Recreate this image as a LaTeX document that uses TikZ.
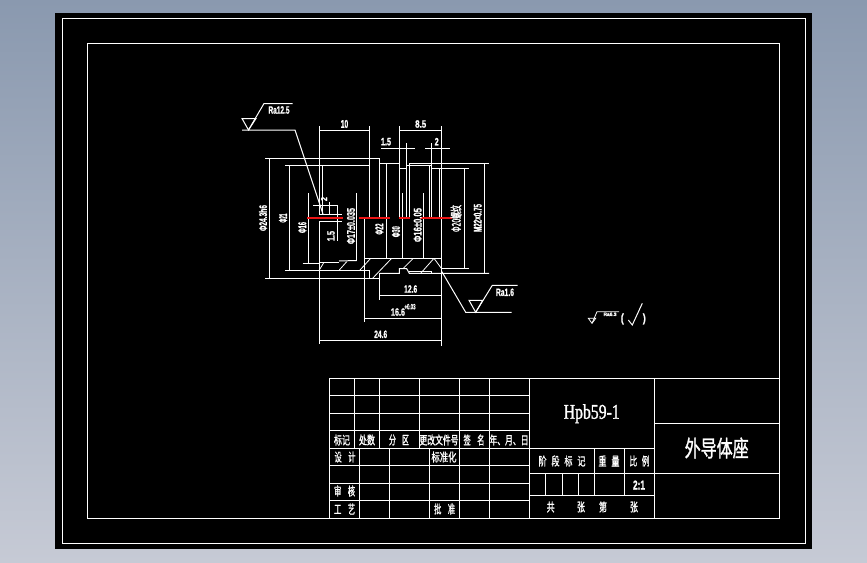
\documentclass[tikz,border=0pt]{standalone}
\usepackage{graphicx}
\usepackage{fontspec}
\setmainfont{Liberation Sans}[BoldFont={Liberation Sans Bold}]
\newfontfamily\latinbold[FakeBold=1.2]{Liberation Sans Bold}
\newfontfamily\cjk[FakeBold=1.5]{Noto Sans CJK SC}
\newfontfamily\titlefont[FakeBold=1.5]{Liberation Serif}
\newcommand{\fit}[3]{\resizebox*{#1pt}{#2pt}{\latinbold #3}}
\newcommand{\cn}[3]{\resizebox*{#1pt}{#2pt}{\cjk #3}}
\definecolor{bgtop}{RGB}{138,153,175}
\definecolor{bgbot}{RGB}{198,202,213}
\definecolor{cadred}{RGB}{235,20,20}
\tikzset{
  cad/.style={draw=white,line width=1pt},
  redline/.style={draw=cadred,line width=1.1pt},
  thin cad/.style={draw=white,line width=0.8pt},
  lab/.style={text=white,inner sep=0pt,outer sep=0pt},
  vlab/.style={lab,rotate=90}
}
\begin{document}
\begin{tikzpicture}[x=1pt,y=-1pt]
\useasboundingbox (0,0) rectangle (867,562);
\shade[top color=bgtop,bottom color=bgbot] (0,0) rectangle (867,562);
\fill[black] (55,13) rectangle (812,549);
\draw[cad] (62.5,18.5) rectangle (805,543.5);
\draw[cad] (87.5,43.5) rectangle (779.3,518);

% --- part outline: left half ---
\draw[cad] (265,158.3) -- (379.3,158.3) -- (379.3,218);
\draw[cad] (285,165.3) -- (369.3,165.3);
\draw[cad] (269.3,158.3) -- (269.3,278.2);
\draw[cad] (265,278.2) -- (379.3,278.2);
\draw[cad] (289.3,165.3) -- (289.3,270.3);
\draw[cad] (285,270.3) -- (369.3,270.3) -- (369.3,278.2);
\draw[cad] (308.3,193) -- (308.3,263.3);
\draw[cad] (302.7,263.3) -- (319.3,263.3);
\draw[cad] (356.3,193) -- (356.3,260.5);
\draw[cad] (319.3,262.3) -- (339,262.3);
\draw[cad] (339,261) -- (356.7,260.5);
\draw[cad] (319.3,126) -- (319.3,214.3) -- (341.7,214.3);
\draw[cad] (322.5,165.3) -- (322.5,214.3);
\draw[cad] (313.3,205.5) -- (337.7,205.5);
\draw[cad] (329.3,201.7) -- (329.3,214.3);
\draw[cad] (337.3,205.5) -- (337.3,241);
\draw[cad] (319.3,221.7) -- (341.7,221.7);
\draw[cad] (319.3,221.7) -- (319.3,344);
\draw[cad] (369.3,126) -- (369.3,218);
\draw[cad] (364.3,218) -- (364.3,322);

% --- part outline: right half ---
\draw[cad] (379.3,163.3) -- (399.3,163.3);
\draw[cad] (386,163.3) -- (386,258.3);
\draw[cad] (399.3,126) -- (399.3,218);
\draw[cad] (399.3,168.3) -- (406.3,168.3);
\draw[cad] (402.3,193.3) -- (402.3,258.3);
\draw[cad] (406.3,143) -- (406.3,218);
\draw[cad] (409.3,164.3) -- (409.3,218);
\draw[cad] (409.3,163.3) -- (489,163.3);
\draw[cad] (407.3,165) -- (431.3,165);
\draw[cad] (429.3,165) -- (429.3,218);
\draw[cad] (431.3,143) -- (431.3,218);
\draw[cad] (431.3,168.3) -- (469,168.3);
\draw[cad] (439.3,168.3) -- (439.3,218);
\draw[cad] (441.3,126) -- (441.3,345.7);
\draw[cad] (423.3,193.3) -- (423.3,258.3);
\draw[cad] (464.3,168.3) -- (464.3,268.3);
\draw[cad] (441.3,268.3) -- (469,268.3);
\draw[cad] (484.3,163.3) -- (484.3,273.3);
\draw[cad] (379.3,273.3) -- (399.3,273.3) -- (399.3,268.7) -- (406.7,268.7) -- (409.3,273.3) -- (489,273.3);
\draw[cad] (409.3,271.7) -- (431,271.7) -- (431,273.3);
\draw[cad] (364.3,258.3) -- (441.3,258.3);
\draw[cad] (379.3,273.3) -- (379.3,300);

% --- hatching ---
\draw[thin cad] (319.3,270) -- (324,262.3);
\draw[thin cad] (339.3,270) -- (346.7,261.7);
\draw[thin cad] (360,270) -- (370.7,258.3);
\draw[thin cad] (372.7,278.2) -- (391.7,258.3);
\draw[thin cad] (403.3,268.3) -- (413.3,258.3);
\draw[thin cad] (420.7,273.3) -- (434,258.3);
\draw[thin cad] (434,258.3) -- (441.3,268.3);

% --- red section lines ---
\draw[redline] (307,218) -- (342.7,218);
\draw[redline] (359,218) -- (390,218);
\draw[redline] (399.3,218) -- (410,218);
\draw[redline] (420,218) -- (451.7,218);

% --- dimension lines ---
\draw[cad] (319.3,130.3) -- (369.3,130.3);
\draw[cad] (399.3,130.3) -- (441.3,130.3);
\draw[cad] (381,148.3) -- (415,148.3);
\draw[cad] (425,148.3) -- (450,148.3);
\draw[cad] (379.3,295) -- (441.3,295);
\draw[cad] (364.3,318.3) -- (441.3,318.3);
\draw[cad] (319.3,340.3) -- (441.3,340.3);

% --- surface finish symbols ---
\draw[cad] (242,118.5) -- (256,118.5) -- (248.5,130) -- cycle;
\draw[cad] (248.5,130) -- (264,103.5) -- (292.7,103.5);
\draw[cad] (242,130) -- (295,130) -- (323,214);
\draw[cad] (441.3,270.7) -- (465.7,312.3) -- (511.7,312.3);
\draw[cad] (469,300.3) -- (482.7,300.3) -- (475.7,312.3) -- cycle;
\draw[cad] (475.7,312.3) -- (492.3,285.3) -- (517.7,285.3);
\draw[thin cad] (588.3,318.3) -- (595.7,318.3) -- (592,323.3) -- cycle;
\draw[thin cad] (592,323.3) -- (597,311.7) -- (619,311.7);
\draw[cad] (628.3,320) -- (632.3,325) -- (642.3,303.3);

% --- dimension and finish labels ---
\node[lab] (ra125) at (279,110) {\fit{21}{7.5}{Ra12.5}};
\node[lab] (d10) at (344.5,124) {\fit{7.5}{8}{10}};
\node[lab] (d85) at (420.7,124) {\fit{11}{7.5}{8.5}};
\node[lab] (d15) at (386,141.7) {\fit{10}{7.5}{1.5}};
\node[lab] (d2) at (436.7,141.7) {\fit{4}{7.5}{2}};
\node[lab] (d126) at (410.7,289) {\fit{13}{7.5}{12.6}};
\node[lab] (d166) at (398,312) {\fit{14}{7.5}{16.6}};
\node[lab] (tol) at (410,306.7) {\fit{11}{5.5}{+0.03}};
\node[lab] (d246) at (380.7,334.3) {\fit{13}{7.5}{24.6}};
\node[lab] (ra16) at (505,292.3) {\fit{18}{7.5}{Ra1.6}};
\node[lab] (ra63) at (610,314.3) {\fit{13}{3.5}{Ra6.3}};
\node[lab] (po) at (622.3,319) {\fit{3}{11}{(}};
\node[lab] (pc) at (644.3,319) {\fit{3}{11}{)}};

\node[vlab] (v1) at (263,218) {\fit{26}{8}{Φ24.3h6}};
\node[vlab] (v2) at (283,218) {\fit{9}{8}{Φ21}};
\node[vlab] (v3) at (302.3,227.5) {\fit{11}{8}{Φ16}};
\node[vlab] (v4) at (331,236) {\fit{10}{7.5}{1.5}};
\node[vlab] (v5) at (324,199) {\fit{4}{6}{2}};
\node[vlab] (v6) at (351,226) {\fit{36}{8}{Φ17±0.035}};
\node[vlab] (v7) at (379.3,229) {\fit{11}{8}{Φ22}};
\node[vlab] (v8) at (396,231.7) {\fit{11}{8}{Φ30}};
\node[vlab] (v9) at (417.7,225) {\fit{34}{8}{Φ16±0.05}};
\node[vlab] (v10) at (456,218.5) {\resizebox*{27pt}{11pt}{\cjk Φ20螺纹}};
\node[vlab] (v11) at (477.7,218) {\fit{28}{8}{M22×0.75}};

% --- title block ---
\draw[cad] (329.3,378.3) rectangle (779.3,518);
\foreach \yy in {395.3,413.3,430.7,448.3,465.3,483.3,500.3}
  \draw[cad] (329.3,\yy) -- (529.3,\yy);
\foreach \xx in {354.3,379.3,419.3}
  \draw[cad] (\xx,378.3) -- (\xx,448.3);
\foreach \xx in {459.3,489.3}
  \draw[cad] (\xx,378.3) -- (\xx,518);
\foreach \xx in {359.3,389.3,429.3}
  \draw[cad] (\xx,448.3) -- (\xx,518);
\draw[cad] (529.3,378.3) -- (529.3,518);
\draw[cad] (654.3,378.3) -- (654.3,518);
\draw[cad] (529.3,448.3) -- (654.3,448.3);
\draw[cad] (654.3,423.3) -- (779.3,423.3);
\draw[cad] (529.3,473.3) -- (779.3,473.3);
\draw[cad] (529.3,495.3) -- (654.3,495.3);
\foreach \xx in {594.3,624.3}
  \draw[cad] (\xx,448.3) -- (\xx,495.3);
\foreach \xx in {545.3,562.3,578.3}
  \draw[cad] (\xx,473.3) -- (\xx,495.3);

\node[lab] (mat) at (591.7,413.7) {\resizebox*{56pt}{19pt}{\titlefont Hpb59-1}};
\node[lab] (name) at (716.7,448) {\cn{64}{21}{外导体座}};
\node[lab] (c1) at (342,440) {\cn{16}{11}{标记}};
\node[lab] (c2) at (367,440) {\cn{16}{11}{处数}};
\node[lab] (c3) at (399,440) {\cn{20}{11}{分\hspace{0.9em}区}};
\node[lab] (c4) at (439,440) {\cn{39}{11}{更改文件号}};
\node[lab] (c5) at (474,440) {\cn{21}{11}{签\hspace{0.9em}名}};
\node[lab] (c6) at (509,440) {\cn{39}{11}{年、月、日}};
\node[lab] (c7) at (345,457) {\cn{21}{11}{设\hspace{0.9em}计}};
\node[lab] (c8) at (444,457) {\cn{25}{11}{标准化}};
\node[lab] (c9) at (344.6,491) {\cn{21}{11}{审\hspace{0.9em}核}};
\node[lab] (c10) at (344.6,509) {\cn{21}{11}{工\hspace{0.9em}艺}};
\node[lab] (c11) at (444.6,509) {\cn{21}{11}{批\hspace{0.9em}准}};
\node[lab] (c12) at (562,461) {\cn{47}{11}{阶\hspace{0.6em}段\hspace{0.6em}标\hspace{0.6em}记}};
\node[lab] (c13) at (609,461) {\cn{21}{11}{重\hspace{0.6em}量}};
\node[lab] (c14) at (639.5,461) {\cn{20}{11}{比\hspace{0.6em}例}};
\node[lab] (c15) at (639,485) {\fit{12}{9}{2:1}};
\node[lab] (c16) at (550.7,507) {\cn{8}{11}{共}};
\node[lab] (c17) at (581,507) {\cn{8}{11}{张}};
\node[lab] (c18) at (603,507) {\cn{8}{11}{第}};
\node[lab] (c19) at (634,507) {\cn{8}{11}{张}};
\end{tikzpicture}
\end{document}
